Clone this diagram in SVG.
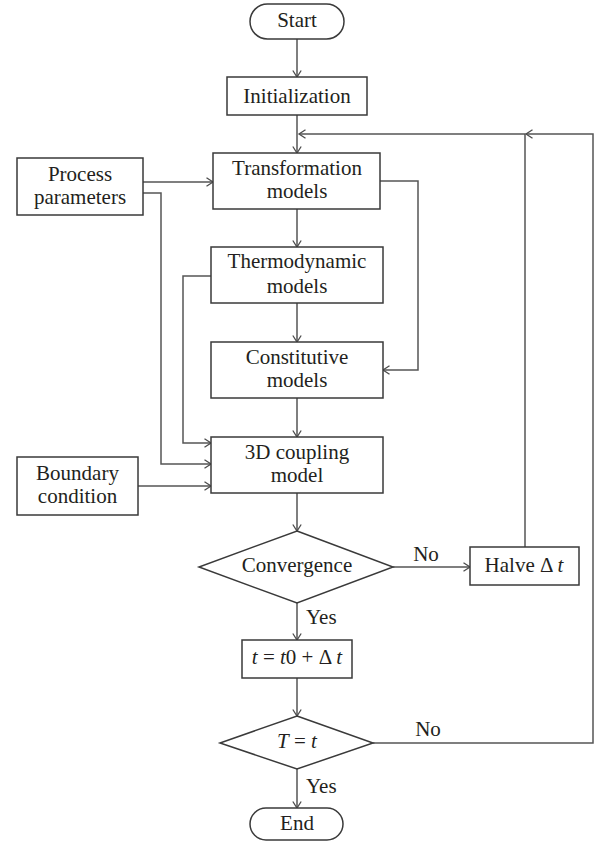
<svg xmlns="http://www.w3.org/2000/svg" width="594" height="841" viewBox="0 0 594 841">
<defs>
<marker id="ah" markerUnits="userSpaceOnUse" markerWidth="10" markerHeight="12" refX="7" refY="5" orient="auto">
<path d="M0.5,0.8 L7,5 L0.5,9.2" fill="none" stroke="#4d4d4d" stroke-width="1.3"/>
</marker>
<style>
.b{fill:#fff;stroke:#3a3a3a;stroke-width:1.5}
.c{fill:none;stroke:#555;stroke-width:1.5}
text{font-family:"Liberation Serif","Times New Roman",serif;font-size:21px;fill:#231f20;text-anchor:middle}
.i{font-style:italic}
</style>
</defs>
<rect width="594" height="841" fill="#fff"/>
<g id="connectors">
<path class="c" d="M297,39 V77" marker-end="url(#ah)"/>
<path class="c" d="M297,115 V153" marker-end="url(#ah)"/>
<path class="c" d="M525,547 V134 H299" marker-end="url(#ah)"/>
<path class="c" d="M373,743 H593 V134 H526" marker-end="url(#ah)"/>
<path class="c" d="M143,182 H213" marker-end="url(#ah)"/>
<path class="c" d="M143,193 H161 V464 H211" marker-end="url(#ah)"/>
<path class="c" d="M297,209 V247" marker-end="url(#ah)"/>
<path class="c" d="M380,181 H418 V370 H383" marker-end="url(#ah)"/>
<path class="c" d="M297,303 V342" marker-end="url(#ah)"/>
<path class="c" d="M211,276 H183 V443 H211" marker-end="url(#ah)"/>
<path class="c" d="M297,398 V437" marker-end="url(#ah)"/>
<path class="c" d="M138,486 H211" marker-end="url(#ah)"/>
<path class="c" d="M297,493 V531" marker-end="url(#ah)"/>
<path class="c" d="M393,567 H470" marker-end="url(#ah)"/>
<path class="c" d="M297,602 V640" marker-end="url(#ah)"/>
<path class="c" d="M297,678 V716" marker-end="url(#ah)"/>
<path class="c" d="M297,769 V808" marker-end="url(#ah)"/>
<text x="426" y="561">No</text>
<text x="428" y="736">No</text>
<text x="306" y="624" style="text-anchor:start">Yes</text>
<text x="306" y="793" style="text-anchor:start">Yes</text>
</g>
<g id="start"><rect class="b" x="250" y="4" width="94" height="35" rx="17.5"/><text x="297" y="27">Start</text></g>
<g id="init"><rect class="b" x="227" y="77" width="140" height="38"/><text x="297" y="103">Initialization</text></g>
<g id="transformation"><rect class="b" x="213" y="153" width="167" height="56"/><text x="297" y="175">Transformation</text><text x="297" y="198">models</text></g>
<g id="process"><rect class="b" x="17" y="158" width="126" height="57"/><text x="80" y="181">Process</text><text x="80" y="204">parameters</text></g>
<g id="thermo"><rect class="b" x="211" y="247" width="172" height="56"/><text x="297" y="268">Thermodynamic</text><text x="297" y="293">models</text></g>
<g id="constitutive"><rect class="b" x="211" y="342" width="172" height="56"/><text x="297" y="364">Constitutive</text><text x="297" y="387">models</text></g>
<g id="coupling"><rect class="b" x="211" y="437" width="172" height="56"/><text x="297" y="459">3D coupling</text><text x="297" y="482">model</text></g>
<g id="boundary"><rect class="b" x="17" y="457" width="121" height="58"/><text x="77.5" y="480">Boundary</text><text x="77.5" y="503">condition</text></g>
<g id="convergence"><polygon class="b" points="297,531 393,567 297,603 199,567"/><text x="297" y="572">Convergence</text></g>
<g id="halve"><rect class="b" x="470" y="547" width="109" height="38"/><text x="524" y="572">Halve Δ <tspan class="i">t</tspan></text></g>
<g id="update"><rect class="b" x="242" y="640" width="110" height="38"/><text x="297" y="664"><tspan class="i">t</tspan> = <tspan class="i">t</tspan>0 + Δ <tspan class="i">t</tspan></text></g>
<g id="check"><polygon class="b" points="297,716 373,743 297,769 220,743"/><text x="297" y="748"><tspan class="i">T</tspan> = <tspan class="i">t</tspan></text></g>
<g id="end"><rect class="b" x="250" y="808" width="93" height="32" rx="16"/><text x="297" y="830">End</text></g>
</svg>
